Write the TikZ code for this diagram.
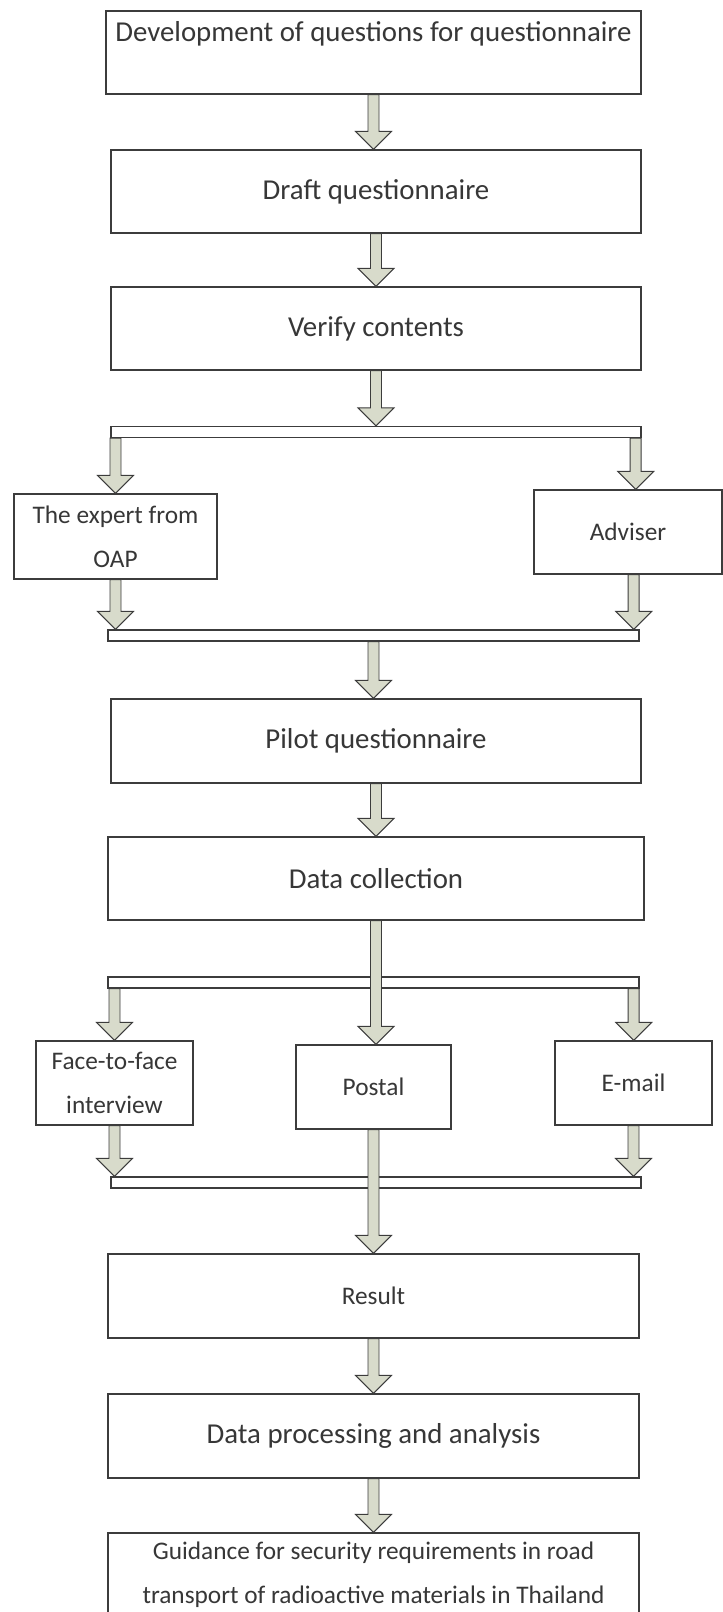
\documentclass[tikz,border=0pt]{standalone}
\usepackage{fontspec}
\setmainfont{Carlito}
\usetikzlibrary{calc}

\definecolor{boxline}{RGB}{60,60,60}
\definecolor{arrowfill}{RGB}{216,219,203}
\definecolor{textgray}{RGB}{55,55,55}

% block arrow, straight down from #1 to the level of #2
\newcommand{\fatarrow}[2]{%
	\path (#1) coordinate (s) (#1 |- #2) coordinate (t);
	\draw[arrowbody] ($(s)+(-5.5,0)$) -- ($(t)+(-5.5,-18)$) -- ($(t)+(-18,-18)$) -- (t)
		-- ($(t)+(18,-18)$) -- ($(t)+(5.5,-18)$) -- ($(s)+(5.5,0)$) -- cycle;}

\begin{document}
\begin{tikzpicture}[x=0.025cm, y=-0.025cm,
		stepbox/.style={draw=boxline, line width=0.9pt, fill=white, inner sep=0pt, align=center,
			text=textgray, font=\fontsize{20.5}{30}\selectfont},
		smallbox/.style={stepbox, font=\fontsize{18}{31}\selectfont},
		splitbar/.style={draw=boxline, line width=0.9pt, fill=white, inner sep=0pt, minimum height=0.275cm},
		arrowbody/.style={draw=boxline, line width=0.7pt, fill=arrowfill, line join=miter}]

		\useasboundingbox (0,0) rectangle (723,1612);

		\node[stepbox, minimum width=13.375cm, minimum height=2.075cm] (dev) at (373.5,52.5) {Development of questions for questionnaire\\ \mbox{}};
		\node[stepbox, minimum width=13.25cm, minimum height=2.075cm] (draft) at (376,191.5) {Draft questionnaire};
		\node[stepbox, minimum width=13.25cm, minimum height=2.075cm] (verify) at (376,328.5) {Verify contents};

		\node[splitbar, minimum width=13.25cm] (bar1) at (376,432) {};
		\node[smallbox, minimum width=5.075cm, minimum height=2.125cm] (expert) at (115.5,536.5) {The expert from\\OAP};
		\node[smallbox, minimum width=4.7cm, minimum height=2.1cm] (adviser) at (628,532) {Adviser};
		\node[splitbar, minimum width=13.275cm] (bar2) at (373.5,635.5) {};

		\node[stepbox, minimum width=13.25cm, minimum height=2.1cm] (pilot) at (376,741) {Pilot questionnaire};
		\node[stepbox, minimum width=13.4cm, minimum height=2.075cm] (collect) at (376,878.5) {Data collection};

		\node[splitbar, minimum width=13.275cm] (bar3) at (373.5,982.5) {};
		\node[smallbox, minimum width=3.925cm, minimum height=2.1cm] (face) at (114.5,1083) {Face-to-face\\interview};
		\node[smallbox, minimum width=3.875cm, minimum height=2.1cm] (postal) at (373.5,1087) {Postal};
		\node[smallbox, minimum width=3.925cm, minimum height=2.1cm] (email) at (633.5,1083) {E-mail};
		\node[splitbar, minimum width=13.25cm] (bar4) at (376,1182.5) {};

		\node[smallbox, minimum width=13.275cm, minimum height=2.1cm] (result) at (373.5,1296) {Result};
		\node[stepbox, minimum width=13.275cm, minimum height=2.1cm] (process) at (373.5,1436) {Data processing and analysis};
		\node[smallbox, minimum width=13.275cm, minimum height=2.075cm] (guide) at (373.5,1574.5) {Guidance for security requirements in road\\transport of radioactive materials in Thailand};

		% free ends on the bars
		\coordinate (b1l) at (expert.north |- bar1.south);
		\coordinate (b1r) at ($(bar1.south east)+(-6,0)$);
		\coordinate (b2r) at ($(bar2.north east)+(-6,0)$);
		\coordinate (advout) at (b2r |- adviser.south);
		\coordinate (b3l) at (face.north |- bar3.south);
		\coordinate (b3r) at ($(bar3.south east)+(-6,0)$);

		\fatarrow{dev.south}{draft.north}
		\fatarrow{draft.south}{verify.north}
		\fatarrow{verify.south}{bar1.north}
		\fatarrow{b1l}{expert.north}
		\fatarrow{b1r}{adviser.north}
		\fatarrow{expert.south}{bar2.north}
		\fatarrow{advout}{bar2.north}
		\fatarrow{bar2.south}{pilot.north}
		\fatarrow{pilot.south}{collect.north}
		\fatarrow{collect.south}{postal.north}
		\fatarrow{b3l}{face.north}
		\fatarrow{b3r}{email.north}
		\fatarrow{face.south}{bar4.north}
		\fatarrow{email.south}{bar4.north}
		\fatarrow{postal.south}{result.north}
		\fatarrow{result.south}{process.north}
		\fatarrow{process.south}{guide.north}

	\end{tikzpicture}
\end{document}
